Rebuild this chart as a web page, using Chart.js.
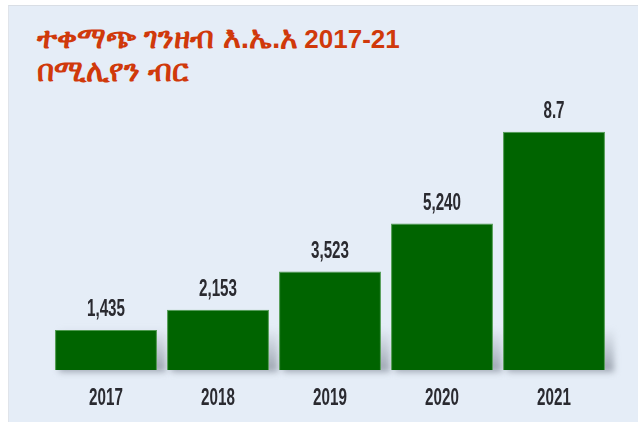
<!DOCTYPE html>
<html>
<head>
<meta charset="utf-8">
<script src="https://cdn.jsdelivr.net/npm/chart.js@4.4.1/dist/chart.umd.min.js"></script>
<style>
  html, body { margin: 0; padding: 0; background: #ffffff; }
  #wrap { position: relative; width: 638px; height: 422px; overflow: hidden; }
  #panel { position: absolute; left: 8px; top: 5px; width: 630px; height: 417px; background: #e5edf7; border-top: 1px solid #d9dee5; border-left: 1px solid #e0e4ea; box-sizing: border-box; }
  .ttl { position: absolute; left: 37px; color: #d0390b; font-weight: bold; font-family: "Liberation Sans", Arial, sans-serif; white-space: nowrap; line-height: 1; }
  .et { font-size: 30px; }
  .num { font-size: 26px; margin-left: 6px; }
  #t1 { top: 23px; }
  #t2 { top: 56px; }
  canvas { position: absolute; left: 0; top: 0; }
</style>
</head>
<body>
<div id="wrap">
  <div id="panel"></div>
  <div class="ttl" id="t1"><span class="et">ተቀማጭ ገንዘብ እ.ኤ.አ</span><span class="num">2017-21</span></div>
  <div class="ttl" id="t2"><span class="et">በሚሊየን ብር</span></div>
  <canvas id="c" width="638" height="422"></canvas>
</div>
<script>
const categories = ["2017", "2018", "2019", "2020", "2021"];
const deposits = [1435, 2153, 3523, 5240, 8530];
const valueLabels = ["1,435", "2,153", "3,523", "5,240", "8.7"];

const narrowFont = "bold 23px 'Liberation Sans', Arial, sans-serif";
const squeeze = 0.66;

function drawNarrow(ctx, text, x, y) {
  ctx.save();
  ctx.translate(x, y);
  ctx.scale(squeeze, 1);
  ctx.fillText(text, 0, 0);
  ctx.restore();
}

const shadowPlugin = {
  id: 'barShadow',
  beforeDatasetsDraw(chart) {
    const ctx = chart.ctx;
    const meta = chart.getDatasetMeta(0);
    ctx.save();
    ctx.filter = 'blur(3px)';
    meta.data.forEach(bar => {
      const w = bar.width;
      const left = bar.x - w / 2;
      const bottom = bar.base;
      const g = ctx.createLinearGradient(0, bottom - 42, 0, bottom);
      g.addColorStop(0, 'rgba(150,158,170,0)');
      g.addColorStop(1, 'rgba(150,158,170,0.9)');
      ctx.fillStyle = g;
      ctx.fillRect(left + 4, bottom - 42, w + 5, 44);
    });
    ctx.restore();
  }
};

const textPlugin = {
  id: 'narrowText',
  afterDatasetsDraw(chart) {
    const ctx = chart.ctx;
    const meta = chart.getDatasetMeta(0);
    const xs = chart.scales.x;
    ctx.save();
    ctx.font = narrowFont;
    ctx.fillStyle = '#2a2a30';
    ctx.textAlign = 'center';
    ctx.textBaseline = 'alphabetic';
    meta.data.forEach((bar, i) => {
      drawNarrow(ctx, valueLabels[i], bar.x, bar.y - 14);
    });
    categories.forEach((c, i) => {
      drawNarrow(ctx, c, xs.getPixelForValue(i), xs.bottom + 35);
    });
    ctx.restore();
  }
};

new Chart(document.getElementById('c'), {
  type: 'bar',
  data: {
    labels: categories,
    datasets: [{
      data: deposits,
      backgroundColor: '#006400',
      borderColor: '#4f9a50',
      borderWidth: 1,
      barPercentage: 0.91,
      categoryPercentage: 1.0
    }]
  },
  options: {
    responsive: false,
    animation: false,
    devicePixelRatio: 1,
    layout: { padding: { left: 50, right: 28, top: 99, bottom: 52 } },
    plugins: { legend: { display: false }, tooltip: { enabled: false } },
    scales: {
      x: {
        grid: { display: false, drawTicks: false },
        border: { display: false },
        ticks: { display: false }
      },
      y: {
        display: false,
        min: 0,
        max: 9700
      }
    }
  },
  plugins: [shadowPlugin, textPlugin]
});
</script>
</body>
</html>
